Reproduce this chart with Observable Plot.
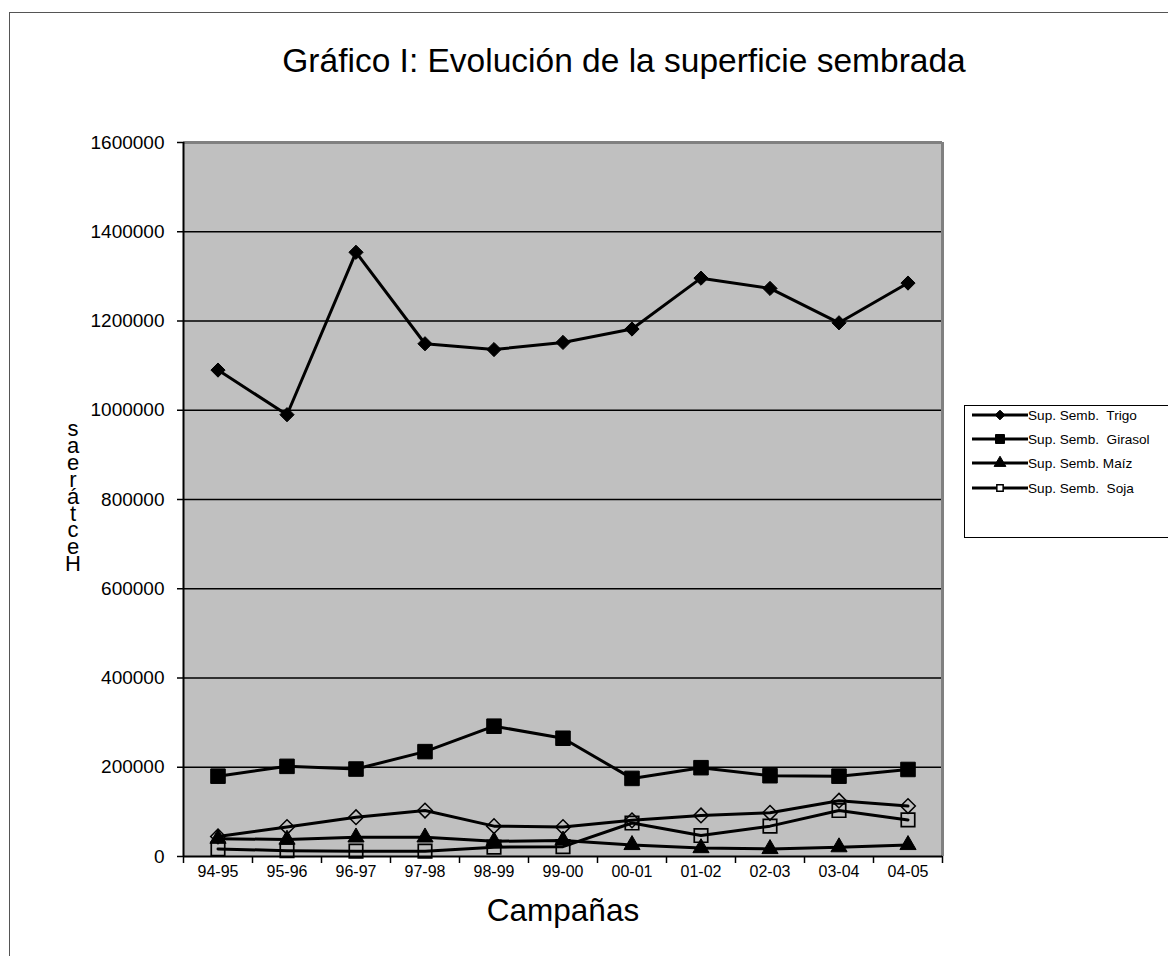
<!DOCTYPE html>
<html><head><meta charset="utf-8">
<script src="https://cdn.jsdelivr.net/npm/d3@7"></script>
<script src="https://cdn.jsdelivr.net/npm/@observablehq/plot@0.6"></script>
<style>
body{margin:0;background:#fff;font-family:"Liberation Sans",Arial,sans-serif;}
#wrap{position:relative;width:1168px;height:956px;overflow:hidden;background:#fff;}
#frame{position:absolute;left:9px;top:12px;width:1300px;height:1100px;border:1px solid #555;}
#chart{position:absolute;left:0;top:0;}
#title{position:absolute;left:24px;width:1200px;top:44px;text-align:center;font-size:33.5px;line-height:34px;color:#000;white-space:nowrap;}
#xlabel{position:absolute;left:263px;width:600px;top:894px;text-align:center;font-size:31.5px;line-height:32px;color:#000;}
#ylabel{position:absolute;left:57px;width:32px;top:421px;text-align:center;font-size:22px;line-height:16.9px;color:#000;white-space:pre-line;}
#legend{position:absolute;left:964px;top:405px;width:230px;height:131px;border:1px solid #000;background:#fff;}
.lrow{position:absolute;left:0;height:18px;display:flex;align-items:center;font-size:13.6px;white-space:pre;color:#000;}
</style></head>
<body><div id="wrap"><div id="frame"></div></div>
<script>
// ---- data ----
const categorias = ["94-95","95-96","96-97","97-98","98-99","99-00","00-01","01-02","02-03","03-04","04-05"];
const trigo   = [1090000, 990000, 1354000, 1149000, 1136000, 1152000, 1182000, 1296000, 1273000, 1196000, 1285000];
const girasol = [180000, 202000, 196000, 235000, 292000, 265000, 175000, 199000, 181000, 180000, 195000];
const maiz    = [40000, 38000, 43000, 43000, 34000, 36000, 26000, 19000, 17000, 21000, 26000];
const soja    = [17000, 13000, 12000, 12000, 21000, 22000, 75000, 47000, 68000, 103000, 82000];
const otra    = [45000, 66000, 88000, 103000, 68000, 66000, 81000, 92000, 98000, 125000, 113000];
const yTicks  = [0, 200000, 400000, 600000, 800000, 1000000, 1200000, 1400000, 1600000];
const nombres = ["Sup. Semb.  Trigo", "Sup. Semb.  Girasol", "Sup. Semb. Maíz", "Sup. Semb.  Soja"];
const titulo  = "Gráfico I: Evolución de la superficie sembrada";
const ejeX    = "Campañas";
const ejeY    = "Hectáreas";

// ---- styles per series ----
const series = [
  {name: nombres[0], values: trigo,   symbol: "diamond2", r: 6.4, fill: "black", stroke: "black", sw: 1},
  {name: nombres[1], values: girasol, symbol: "square",   r: 8.2, fill: "black", stroke: "black", sw: 1},
  {name: nombres[2], values: maiz,    symbol: "triangle", r: 6.0, fill: "black", stroke: "black", sw: 1},
  {name: nombres[3], values: soja,    symbol: "square",   r: 7.6, fill: "none",  stroke: "black", sw: 1.7},
  {name: "otra",     values: otra,    symbol: "diamond2", r: 6.6, fill: "none",  stroke: "black", sw: 1.5}
];
const idx = categorias.map((_, i) => i);
const bounds = d3.range(categorias.length + 1).map(i => i - 0.5);

const marks = [
  Plot.frame({fill: "#c0c0c0"}),
  Plot.ruleY(yTicks.filter(d => d > 0 && d < 1600000), {stroke: "black", strokeWidth: 1.3}),
  Plot.ruleY([1600000], {stroke: "#808080", strokeWidth: 3}),
  Plot.ruleX([categorias.length - 0.5], {stroke: "#808080", strokeWidth: 3}),
  Plot.axisY({ticks: yTicks, tickSize: 6, tickPadding: 13, fontSize: 19, tickFormat: d => String(d), label: null, stroke: "black", strokeWidth: 1.5}),
  Plot.axisX({ticks: bounds, tickSize: 7, tickFormat: () => "", label: null, stroke: "black", strokeWidth: 1.5}),
  Plot.axisX({ticks: idx, tickSize: 0, tickPadding: 9, fontSize: 16, tickFormat: i => categorias[i], label: null})
];
for (const s of series) {
  const rows = s.values.map((v, i) => ({i, v}));
  marks.push(Plot.line(rows, {x: "i", y: "v", stroke: "black", strokeWidth: 3}));
}
for (const s of series) {
  const rows = s.values.map((v, i) => ({i, v}));
  marks.push(Plot.dot(rows, {x: "i", y: "v", symbol: () => s.symbol, r: s.r, fill: s.fill, stroke: s.stroke, strokeWidth: s.sw}));
}
marks.push(Plot.ruleX([-0.5], {stroke: "black", strokeWidth: 2}));
marks.push(Plot.ruleY([0], {stroke: "black", strokeWidth: 2}));

const chart = Plot.plot({
  width: 960, height: 900,
  marginLeft: 183, marginRight: 18, marginTop: 142, marginBottom: 44,
  x: {type: "linear", domain: [-0.5, categorias.length - 0.5], label: null},
  y: {domain: [0, 1600000], label: null},
  style: {fontFamily: "'Liberation Sans', Arial, sans-serif", color: "black", background: "transparent"},
  marks
});
chart.id = "chart";
const wrap = document.getElementById("wrap");
wrap.appendChild(chart);

// title & axis titles
const t = document.createElement("div"); t.id = "title"; t.textContent = titulo; wrap.appendChild(t);
const xl = document.createElement("div"); xl.id = "xlabel"; xl.textContent = ejeX; wrap.appendChild(xl);
// stacked y-axis title (letters upright, read bottom to top as in the original)
const yl = document.createElement("div"); yl.id = "ylabel";
yl.textContent = Array.from(ejeY).reverse().join("\n");
wrap.appendChild(yl);

// legend
const lg = document.createElement("div"); lg.id = "legend"; wrap.appendChild(lg);
const legY = [9, 33, 57, 82];
series.slice(0, 4).forEach((s, k) => {
  const row = document.createElement("div");
  row.className = "lrow"; row.style.top = (legY[k] - 9) + "px";
  const svg = d3.create("svg").attr("width", 63).attr("height", 18);
  svg.append("line").attr("x1", 7).attr("x2", 63).attr("y1", 9).attr("y2", 9).attr("stroke", "black").attr("stroke-width", 3);
  const symMap = {diamond2: d3.symbolDiamond2, square: d3.symbolSquare, triangle: d3.symbolTriangle};
  const size = k === 3 ? 40 : (k === 1 ? 80 : 60);
  svg.append("path").attr("d", d3.symbol(symMap[s.symbol], size)())
    .attr("transform", "translate(35,9)")
    .attr("fill", s.fill === "none" ? "white" : "black").attr("stroke", "black").attr("stroke-width", k === 3 ? 1.5 : 1);
  row.appendChild(svg.node());
  const sp = document.createElement("span"); sp.textContent = s.name; row.appendChild(sp);
  lg.appendChild(row);
});
</script>
</body></html>
